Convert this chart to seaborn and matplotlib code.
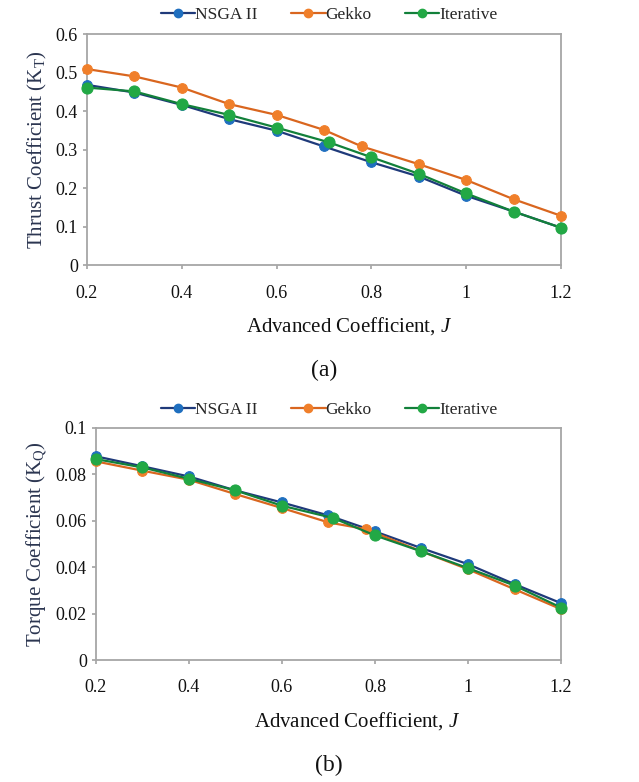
import numpy as np
import pandas as pd
import matplotlib
matplotlib.use("Agg")
import matplotlib.pyplot as plt
import seaborn as sns
from matplotlib.lines import Line2D

sns.set_theme(style="white")
plt.rcParams['font.family'] = ['Liberation Serif', 'DejaVu Serif']
plt.rcParams['mathtext.fontset'] = 'custom'
plt.rcParams['mathtext.rm'] = 'Liberation Serif'
plt.rcParams['mathtext.it'] = 'Liberation Serif:italic'

# (a) thrust coefficient
nsga_j_a = [0.2, 0.3, 0.4, 0.5, 0.6, 0.7, 0.8, 0.9, 1.0, 1.1, 1.2]
nsga_kt = [0.468, 0.448, 0.416, 0.379, 0.349, 0.308, 0.267, 0.230, 0.180, 0.139, 0.097]
gekko_j_a = [0.2, 0.3, 0.4, 0.5, 0.6, 0.7, 0.78, 0.9, 1.0, 1.1, 1.2]
gekko_kt = [0.509, 0.490, 0.461, 0.418, 0.390, 0.351, 0.308, 0.262, 0.221, 0.171, 0.128]
iter_j_a = [0.2, 0.3, 0.4, 0.5, 0.6, 0.71, 0.8, 0.9, 1.0, 1.1, 1.2]
iter_kt = [0.461, 0.451, 0.418, 0.390, 0.357, 0.319, 0.280, 0.237, 0.186, 0.139, 0.097]

# (b) torque coefficient
nsga_j_b = [0.2, 0.3, 0.4, 0.5, 0.6, 0.7, 0.8, 0.9, 1.0, 1.1, 1.2]
nsga_kq = [0.0878, 0.0835, 0.0791, 0.0731, 0.0679, 0.0623, 0.0554, 0.0482, 0.0413, 0.0327, 0.0245]
gekko_j_b = [0.2, 0.3, 0.4, 0.5, 0.6, 0.7, 0.78, 0.9, 1.0, 1.1, 1.2]
gekko_kq = [0.0856, 0.0816, 0.0777, 0.0715, 0.0655, 0.0593, 0.0564, 0.0468, 0.0391, 0.0305, 0.0219]
iter_j_b = [0.2, 0.3, 0.4, 0.5, 0.6, 0.71, 0.8, 0.9, 1.0, 1.1, 1.2]
iter_kq = [0.0866, 0.0830, 0.0781, 0.0731, 0.0665, 0.0612, 0.0537, 0.0468, 0.0396, 0.0321, 0.0226]

methods = ['NSGA II', 'Gekko', 'Iterative']
line_cols = {'NSGA II': '#1F3A7A', 'Gekko': '#D9661F', 'Iterative': '#12803A'}
mark_cols = {'NSGA II': '#1F6FBF', 'Gekko': '#F07F2A', 'Iterative': '#22A845'}
msizes = {'NSGA II': 7, 'Gekko': 7, 'Iterative': 8}


def long_df(xs, ys):
    parts = []
    for m, x, y in zip(methods, xs, ys):
        parts.append(pd.DataFrame({'J': x, 'val': y, 'method': m}))
    return pd.concat(parts, ignore_index=True)


df_a = long_df([nsga_j_a, gekko_j_a, iter_j_a], [nsga_kt, gekko_kt, iter_kt])
df_b = long_df([nsga_j_b, gekko_j_b, iter_j_b], [nsga_kq, gekko_kq, iter_kq])

fig = plt.figure(figsize=(6.39, 7.82), dpi=100)
ax1 = fig.add_axes([0.136, 0.661, 0.742, 0.2955])
ax2 = fig.add_axes([0.150, 0.156, 0.728, 0.2967])

label_col = '#2B3550'


def draw(ax, df, ylim, yticks, ylabel, tag, legend_y, xlab_x):
    for m in methods:
        d = df[df['method'] == m]
        sns.lineplot(data=d, x='J', y='val', ax=ax, color=line_cols[m],
                     linewidth=1.6, marker='o', markersize=msizes[m],
                     markerfacecolor=mark_cols[m], markeredgecolor=mark_cols[m],
                     sort=False, legend=False, clip_on=False, zorder=3)
    ax.set_xlim(0.2, 1.2)
    ax.set_ylim(*ylim)
    ax.set_xticks([0.2, 0.4, 0.6, 0.8, 1.0, 1.2])
    ax.set_xticklabels(['0.2', '0.4', '0.6', '0.8', '1', '1.2'])
    ax.set_yticks(yticks)
    ax.set_yticklabels([('%g' % t) for t in yticks])
    for s in ax.spines.values():
        s.set_color('#A6A6A6')
        s.set_linewidth(1.3)
    ax.tick_params(axis='both', labelsize=13, colors='#A6A6A6', labelcolor='#111111',
                   length=3, direction='out', left=True, bottom=True)
    ax.tick_params(axis='x', pad=11)
    ax.set_xlabel('Advanced Coefficient, $\\mathit{J}$', fontsize=15, color='#111111')
    ax.xaxis.set_label_coords(xlab_x, -0.218)
    ax.set_ylabel(ylabel, fontsize=15, color=label_col, labelpad=5)
    ax.text(0.5, -0.455, tag, transform=ax.transAxes, ha='center', va='center',
            fontsize=17, color='#111111')
    handles = [Line2D([], [], color=line_cols[m], linewidth=1.6, marker='o',
                      markersize=6, markerfacecolor=mark_cols[m],
                      markeredgecolor=mark_cols[m]) for m in methods]
    ax.legend(handles, methods, loc='center', bbox_to_anchor=(0.515, legend_y),
              bbox_transform=fig.transFigure, ncol=3, frameon=False,
              fontsize=12.5, handlelength=2.0, handletextpad=0.0,
              columnspacing=1.9)


draw(ax1, df_a, (0, 0.6), [0, 0.1, 0.2, 0.3, 0.4, 0.5, 0.6],
     'Thrust Coefficient (K$_\\mathrm{T}$)', '(a)', 0.981, 0.553)
draw(ax2, df_b, (0, 0.1), [0, 0.02, 0.04, 0.06, 0.08, 0.1],
     'Torque Coefficient (K$_\\mathrm{Q}$)', '(b)', 0.476, 0.561)

fig.savefig('out.png', dpi=100, facecolor='white')
